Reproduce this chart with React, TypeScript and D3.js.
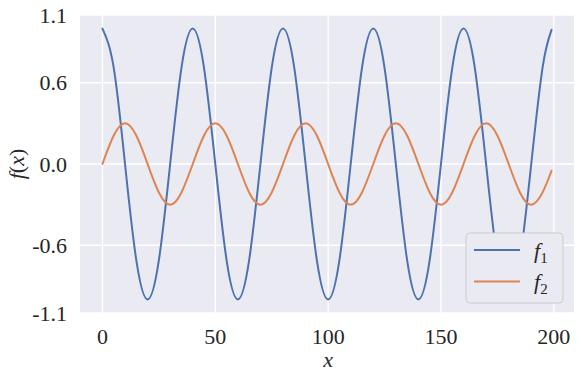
import * as d3 from 'd3';

const xs = [
  0, 5, 10, 15, 20, 25, 30, 35, 40, 45, 50, 55, 60, 65, 70, 75, 80, 85, 90, 95,
  100, 105, 110, 115, 120, 125, 130, 135, 140, 145, 150, 155, 160, 165, 170, 175,
  180, 185, 190, 195, 199,
];
const f1 = [
  1.0, 0.71, 0, -0.71, -1.0, -0.71, 0, 0.71, 1.0, 0.71, 0, -0.71, -1.0, -0.71, 0, 0.71,
  1.0, 0.71, 0, -0.71, -1.0, -0.71, 0, 0.71, 1.0, 0.71, 0, -0.71, -1.0, -0.71, 0, 0.71,
  1.0, 0.71, 0, -0.71, -1.0, -0.71, 0, 0.71, 0.99,
];
const f2 = [
  0, 0.21, 0.3, 0.21, 0, -0.21, -0.3, -0.21, 0, 0.21, 0.3, 0.21, 0, -0.21, -0.3, -0.21,
  0, 0.21, 0.3, 0.21, 0, -0.21, -0.3, -0.21, 0, 0.21, 0.3, 0.21, 0, -0.21, -0.3, -0.21,
  0, 0.21, 0.3, 0.21, 0, -0.21, -0.3, -0.21, -0.05,
];
const xTicks = [0, 50, 100, 150, 200];
const yTicks = [-1.1, -0.6, 0.0, 0.6, 1.1];
const yTickLabels = ['-1.1', '-0.6', '0.0', '0.6', '1.1'];

const W = 581;
const H = 379;
const serif = { fontFamily: "'Liberation Serif'" };

export default function App() {
  const x = d3.scaleLinear().domain([-9.95, 208.95]).range([80, 574]);
  const y = d3.scaleLinear().domain([-1.1, 1.1]).range([313, 15]);
  const line = (vals: number[]) =>
    d3
      .line<number>()
      .x((_, i) => x(xs[i]))
      .y(d => y(d))
      .curve(d3.curveNatural)(vals) || '';

  const [x0, x1] = x.range();
  const [yb, yt] = y.range();

  return (
    <svg width={W} height={H} style={{ position: 'absolute', left: 0, top: 0, background: '#fff' }}>
      <defs>
        <clipPath id="plot">
          <rect x={x0} y={yt} width={x1 - x0} height={yb - yt} />
        </clipPath>
      </defs>
      <rect x={x0} y={yt} width={x1 - x0} height={yb - yt} fill="#eaeaf2" />
      {xTicks.map(t => (
        <line key={'gx' + t} x1={x(t)} x2={x(t)} y1={yt} y2={yb} stroke="#fff" strokeWidth={1.3} />
      ))}
      {yTicks.map(t => (
        <line key={'gy' + t} x1={x0} x2={x1} y1={y(t)} y2={y(t)} stroke="#fff" strokeWidth={1.3} />
      ))}
      <g clipPath="url(#plot)" fill="none" strokeWidth={2} strokeLinecap="round">
        <path d={line(f1)} stroke="#4c72b0" />
        <path d={line(f2)} stroke="#dd8452" />
      </g>
      {xTicks.map(t => (
        <text key={'tx' + t} x={x(t)} y={344} textAnchor="middle" fontSize={22} fill="#262626" style={serif}>
          {t}
        </text>
      ))}
      {yTicks.map((t, i) => (
        <text
          key={'ty' + t}
          x={67}
          y={y(t)}
          dy="0.35em"
          textAnchor="end"
          fontSize={22}
          fill="#262626"
          style={serif}
        >
          {yTickLabels[i]}
        </text>
      ))}
      <text x={x(100)} y={367} textAnchor="middle" fontSize={22} fontStyle="italic" fill="#262626" style={serif}>
        x
      </text>
      <text
        transform={`translate(24,${(yt + yb) / 2}) rotate(-90)`}
        textAnchor="middle"
        fontSize={22}
        fill="#262626"
        style={serif}
      >
        <tspan fontStyle="italic">f</tspan>(<tspan fontStyle="italic">x</tspan>)
      </text>
      <g>
        <rect x={466} y={233} width={97} height={70} rx={4} fill="#eaeaf2" stroke="#cccccc" strokeWidth={1} />
        {[
          { c: '#4c72b0', s: '1', yy: 250 },
          { c: '#dd8452', s: '2', yy: 281.5 },
        ].map(d => (
          <g key={d.s}>
            <line x1={474} x2={520} y1={d.yy} y2={d.yy} stroke={d.c} strokeWidth={2} />
            <text x={534} y={d.yy} dy="0.35em" fontSize={22} fill="#262626" style={serif}>
              <tspan fontStyle="italic">f</tspan>
              <tspan fontSize={15} dy={5}>
                {d.s}
              </tspan>
            </text>
          </g>
        ))}
      </g>
    </svg>
  );
}
